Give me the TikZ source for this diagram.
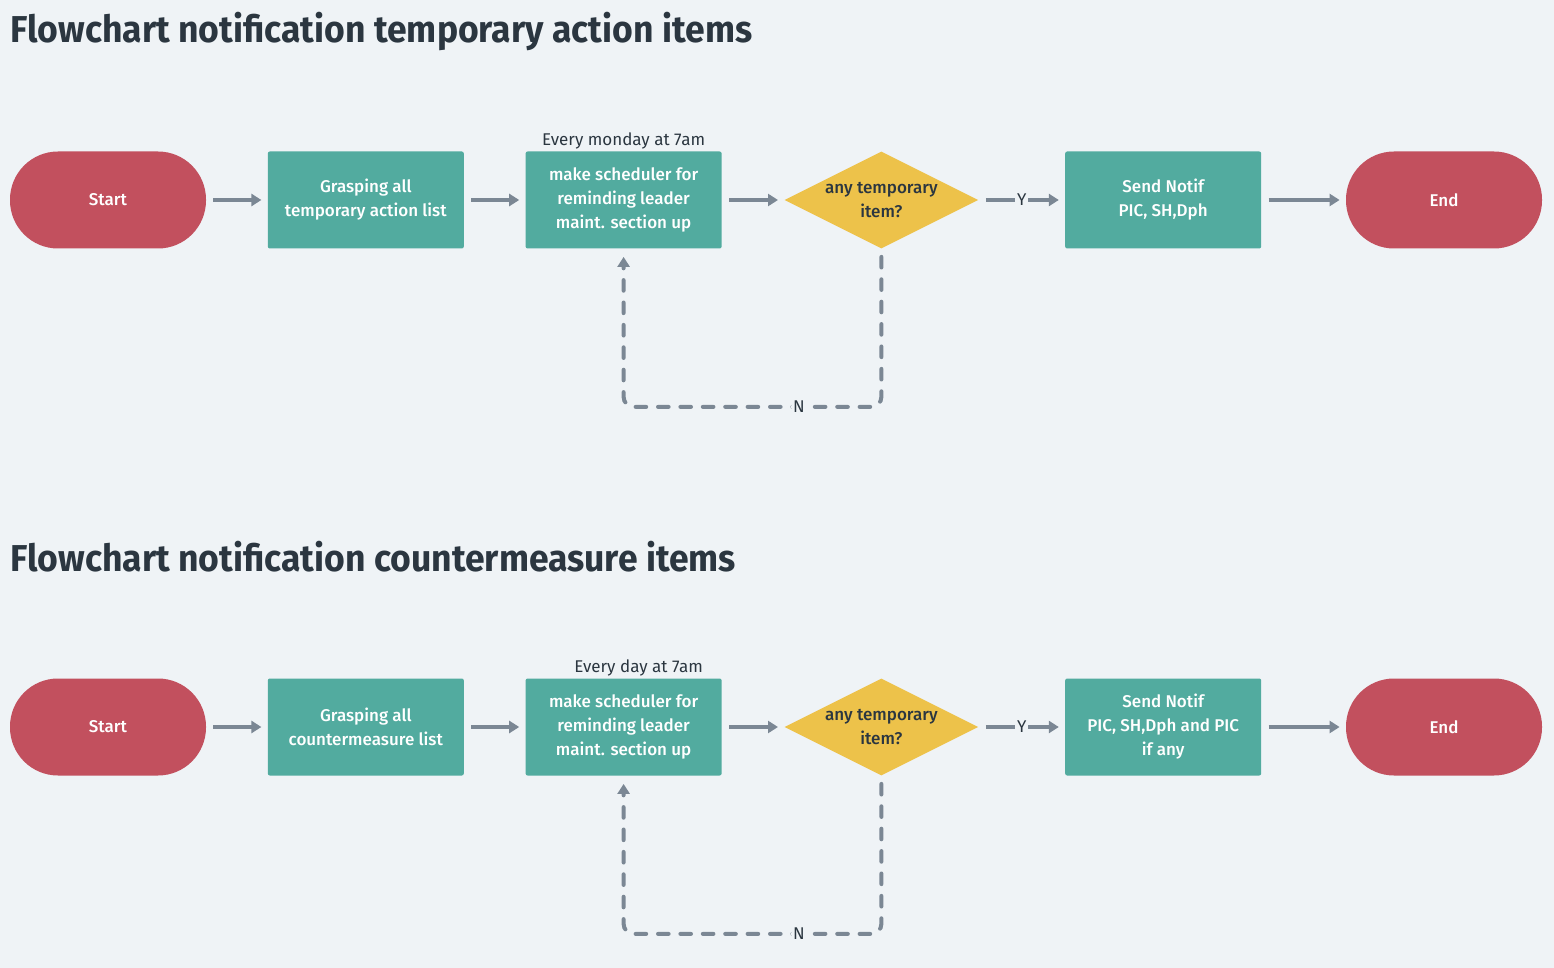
\documentclass[tikz,border=0pt]{standalone}
\usepackage{fontspec}
\setmainfont{Fira Sans}
\newfontfamily\boxfont{Fira Sans Medium}
\newfontfamily\headfont[FakeStretch=0.95]{Fira Sans}
\usetikzlibrary{positioning,shapes.geometric,arrows.meta}
\definecolor{flowbg}{HTML}{EFF3F6}
\definecolor{flowred}{HTML}{C2505E}
\definecolor{flowteal}{HTML}{52AB9F}
\definecolor{flowyellow}{HTML}{EDC24A}
\definecolor{flowgray}{HTML}{7B8794}
\definecolor{flowink}{HTML}{2B3640}

\begin{document}
\begin{tikzpicture}[
  term/.style={fill=flowred, rounded corners=24pt,
              minimum width=98pt, minimum height=48.5pt,
              text=white, font=\boxfont\fontsize{8.5}{12}\selectfont},
  box/.style={fill=flowteal, rounded corners=1pt,
              minimum width=98pt, minimum height=48.5pt,
              text=white, align=center, font=\boxfont\fontsize{8.5}{12}\selectfont},
  decision/.style={diamond, aspect=2, fill=flowyellow, inner sep=0pt,
              minimum width=97pt, minimum height=48.5pt,
              text=flowink, align=center, font=\boxfont\fontsize{8.5}{12}\selectfont},
  head/.style={anchor=base west, inner sep=0pt, text=flowink,
              font=\headfont\bfseries\fontsize{18.7}{20}\selectfont},
  note/.style={inner sep=1pt, text=flowink, font=\fontsize{8.5}{10}\selectfont},
  yn/.style={fill=flowbg, inner sep=1pt, text=flowink, font=\fontsize{8.5}{10}\selectfont},
  arr/.style={-{Triangle[length=5pt,width=6pt]}, line width=2pt, color=flowgray,
              shorten <=3.5pt, shorten >=3pt},
  back/.style={arr, line cap=round, dash pattern=on 5.3pt off 5.9pt,
              rounded corners=5pt, shorten <=4pt, shorten >=4pt},
  node distance=30.5pt
]
\fill[flowbg] (0,0) rectangle (777pt,-484pt);
\useasboundingbox (0,0) rectangle (777pt,-484pt);

% temporary action items
\node[head] (title1) at (5pt,-21.5pt) {Flowchart notification temporary action items};
\node[term] (start1) at (54pt,-100pt) {Start};
\node[box]  (grasp1) [right=of start1] {Grasping all\\temporary action list};
\node[box]  (sched1) [right=of grasp1] {make scheduler for\\reminding leader\\maint. section up};
\node[decision] (dec1) [right=31pt of sched1] {any temporary\\item?};
\node[box]  (notif1) [right=43pt of dec1] {Send Notif\\PIC, SH,Dph};
\node[term] (end1)   [right=42pt of notif1] {End};
\node[note] (when1)  [above=0pt of sched1] {Every monday at 7am};
\draw[arr] (start1)--(grasp1); \draw[arr] (grasp1)--(sched1);
\draw[arr] (sched1)--(dec1);
\draw[arr] (dec1)-- node[yn] {Y} (notif1);
\draw[arr] (notif1)--(end1);
\draw[back] (dec1.south) -- ++(0,-79pt) -| node[yn, pos=0.16] {N} (sched1.south);

% countermeasure items
\node[head] (title2) at (5pt,-285.5pt) {Flowchart notification countermeasure items};
\node[term] (start2) at (54pt,-363.5pt) {Start};
\node[box]  (grasp2) [right=of start2] {Grasping all\\countermeasure list};
\node[box]  (sched2) [right=of grasp2] {make scheduler for\\reminding leader\\maint. section up};
\node[decision] (dec2) [right=31pt of sched2] {any temporary\\item?};
\node[box]  (notif2) [right=43pt of dec2] {Send Notif\\PIC, SH,Dph and PIC\\if any};
\node[term] (end2)   [right=42pt of notif2] {End};
\node[note] (when2)  [above=0pt of sched2, xshift=7.5pt] {Every day at 7am};
\draw[arr] (start2)--(grasp2); \draw[arr] (grasp2)--(sched2);
\draw[arr] (sched2)--(dec2);
\draw[arr] (dec2)-- node[yn] {Y} (notif2);
\draw[arr] (notif2)--(end2);
\draw[back] (dec2.south) -- ++(0,-79pt) -| node[yn, pos=0.16] {N} (sched2.south);
\end{tikzpicture}
\end{document}
